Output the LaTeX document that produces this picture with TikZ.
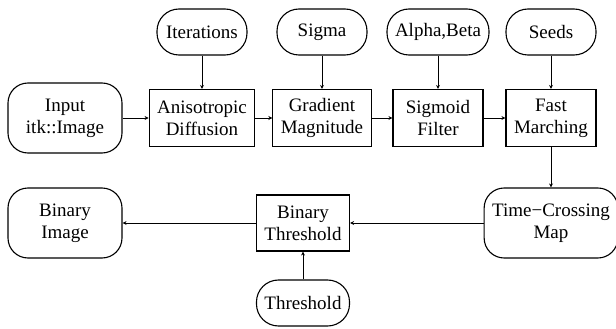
\documentclass[tikz,border=0pt]{standalone}
\usepackage{fontspec}
\setmainfont{Liberation Serif}
\newfontfamily\diagfont{Liberation Serif}
\usetikzlibrary{positioning,arrows.meta}
\tikzset{%
	block/.style={
		rectangle,
		draw,
		line width=1.1pt,
		align=center,
		minimum width=90pt,
		minimum height=57pt,
		inner xsep=8pt
	},
	data/.style={
		rectangle,
		draw,
		line width=1.1pt,
		rounded corners=20pt,
		align=center,
		minimum width=114pt,
		minimum height=70pt,
		inner xsep=8pt
	},
	param/.style={
		rectangle,
		draw,
		line width=1.1pt,
		rounded corners=22pt,
		align=center,
		minimum width=90pt,
		minimum height=46pt,
		inner xsep=8pt
	},
}

\begin{document}
\begin{tikzpicture}[x=1pt, y=-1pt, >={Stealth[length=4pt,width=4pt]}, font=\diagfont\fontsize{19}{22}\selectfont]
\useasboundingbox (0,0) rectangle (616,329);

% filters
\foreach \n/\x/\t in {aniso/202/Anisotropic\\Diffusion, gradient/322/Gradient\\Magnitude, sigmoid/438/Sigmoid\\Filter, fast/551/Fast\\Marching}
	\node[block] (\n) at (\x,118) {\t};
\node[block, minimum height=56pt] (binthresh) at (303,223) {Binary\\Threshold};

% parameters
\foreach \n/\x/\t in {iter/202/Iterations, sigma/322/Sigma, ab/438/{Alpha,Beta}, seeds/551/Seeds}
	\node[param] (\n) at (\x,32) {\t};
\node[param] (thresh) at (303,303) {Threshold};

% images
\node[data] (input) at (65,118) {Input\\itk::Image};
\node[data] (timemap) at (551,223) {Time\textminus Crossing\\Map};
\node[data] (binimg) at (65,223) {Binary\\Image};

% connections
\foreach \a/\b in {input/aniso, aniso/gradient, gradient/sigmoid, sigmoid/fast, fast/timemap, timemap/binthresh, binthresh/binimg}
	\draw[->, line width=1pt] (\a) -- (\b);
\foreach \p/\b in {iter/aniso, sigma/gradient, ab/sigmoid, seeds/fast, thresh/binthresh}
	\draw[->, line width=1pt] (\p) -- (\b);

\end{tikzpicture}
\end{document}
